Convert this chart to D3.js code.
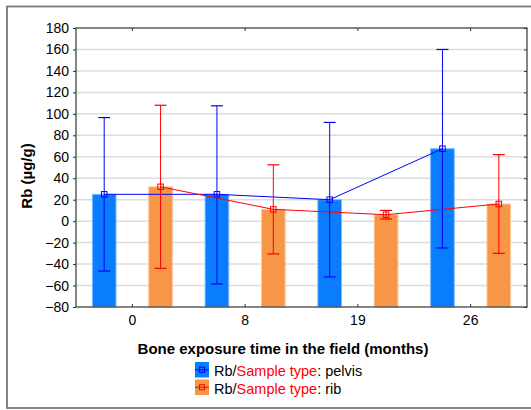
<!DOCTYPE html>
<html>
<head>
<meta charset="utf-8">
<script src="https://cdn.jsdelivr.net/npm/d3@7"></script>
<style>
  html, body { margin: 0; padding: 0; background: #fff; }
  svg { display: block; font-family: "Liberation Sans", Arial, sans-serif; }
</style>
</head>
<body>
<svg id="chart" width="531" height="410"></svg>
<script>
// Exposure time categories (months)
const categories = ["0", "8", "19", "26"];
const seriesNames = ["pelvis", "rib"];

// Rb concentration (µg/g): means and error-bar limits
const pelvisMean  = [25, 25, 20, 67.5];
const pelvisUpper = [96.5, 107.5, 92, 160];
const pelvisLower = [-46.5, -58.5, -52, -25];

const ribMean  = [32, 11, 6, 16];
const ribUpper = [108, 52.5, 10, 62];
const ribLower = [-44, -30.5, 2, -30];

const yTicks = [-80, -60, -40, -20, 0, 20, 40, 60, 80, 100, 120, 140, 160, 180];

const barColors  = { pelvis: "#0a7dff", rib: "#f79646" };
const lineColors = { pelvis: "#0000ff", rib: "#ff0000" };

const series = [
  { name: "pelvis", mean: pelvisMean, upper: pelvisUpper, lower: pelvisLower },
  { name: "rib",    mean: ribMean,    upper: ribUpper,    lower: ribLower }
];

const svg = d3.select("#chart");
const plot = { left: 76, right: 527, top: 28, bottom: 307 };

const x = d3.scaleBand().domain(categories).range([plot.left, plot.right]).padding(0);
const xSub = d3.scalePoint().domain(seriesNames).range([0, x.bandwidth()]).padding(0.5);
const y = d3.scaleLinear().domain([-80, 180]).range([plot.bottom, plot.top]);
const barW = x.bandwidth() * 0.21;

// Outer frame
svg.append("rect")
  .attr("x", 7).attr("y", 6.5).attr("width", 540).attr("height", 401.5)
  .attr("fill", "none").attr("stroke", "#777").attr("stroke-width", 1.8);

// Horizontal gridlines
svg.append("g")
  .selectAll("line")
  .data(yTicks.filter(v => v > -80 && v < 180))
  .join("line")
  .attr("x1", plot.left).attr("x2", plot.right)
  .attr("y1", d => y(d)).attr("y2", d => y(d))
  .attr("stroke", "#dcdcdc").attr("stroke-width", 1.5);

// Bars
series.forEach(s => {
  svg.append("g")
    .selectAll("rect")
    .data(categories.map((c, i) => ({ c, v: s.mean[i] })))
    .join("rect")
    .attr("x", d => x(d.c) + xSub(s.name) - barW / 2)
    .attr("width", barW)
    .attr("y", d => y(d.v))
    .attr("height", d => y(-80) - y(d.v))
    .attr("fill", barColors[s.name])
    .attr("stroke", s.name === "pelvis" ? "#7dbbff" : "#fbc9a0")
    .attr("stroke-width", 1);
});

// Error bars, connecting lines and markers
series.forEach(s => {
  const g = svg.append("g");
  const col = lineColors[s.name];
  const pts = categories.map((c, i) => ({
    cx: x(c) + xSub(s.name), m: s.mean[i], lo: s.lower[i], hi: s.upper[i]
  }));
  g.selectAll("line.v").data(pts).join("line")
    .attr("x1", d => d.cx).attr("x2", d => d.cx)
    .attr("y1", d => y(d.lo)).attr("y2", d => y(d.hi))
    .attr("stroke", col).attr("stroke-width", 1);
  ["lo", "hi"].forEach(k => {
    g.selectAll("line.cap" + k).data(pts).join("line")
      .attr("x1", d => d.cx - 6).attr("x2", d => d.cx + 6)
      .attr("y1", d => y(d[k])).attr("y2", d => y(d[k]))
      .attr("stroke", col).attr("stroke-width", 1.2);
  });
  const line = d3.line().x(d => d.cx).y(d => y(d.m));
  g.append("path").datum(pts).attr("d", line)
    .attr("fill", "none").attr("stroke", col).attr("stroke-width", 1);
  g.selectAll("rect").data(pts).join("rect")
    .attr("x", d => d.cx - 2.75).attr("y", d => y(d.m) - 2.75)
    .attr("width", 5.5).attr("height", 5.5)
    .attr("fill", "none").attr("stroke", col).attr("stroke-width", 1);
});

// Plot border
svg.append("rect")
  .attr("x", plot.left).attr("y", plot.top)
  .attr("width", plot.right - plot.left).attr("height", plot.bottom - plot.top)
  .attr("fill", "none").attr("stroke", "#444").attr("stroke-width", 1.3);

// Y axis (left) with labels
const yAxis = d3.axisLeft(y).tickValues(yTicks).tickSize(3).tickPadding(4);
const gy = svg.append("g").attr("transform", `translate(${plot.left},0)`).call(yAxis);
gy.select(".domain").remove();
gy.selectAll("text").attr("font-size", 14).attr("fill", "#000")
  .attr("font-family", "Liberation Sans, Arial, sans-serif");
gy.selectAll("line").attr("stroke", "#333");

// Right axis ticks (inward)
const gr = svg.append("g").attr("transform", `translate(${plot.right},0)`)
  .call(d3.axisRight(y).tickValues(yTicks).tickSize(-3).tickFormat(""));
gr.select(".domain").remove();
gr.selectAll("line").attr("stroke", "#333");

// X axis (bottom) with labels, ticks inward
const gx = svg.append("g").attr("transform", `translate(0,${plot.bottom})`)
  .call(d3.axisBottom(x).tickSize(-3).tickPadding(8));
gx.select(".domain").remove();
gx.selectAll("line").attr("stroke", "#333");
gx.selectAll("text").attr("font-size", 14).attr("fill", "#000")
  .attr("font-family", "Liberation Sans, Arial, sans-serif");

// Top axis ticks (inward)
const gt = svg.append("g").attr("transform", `translate(0,${plot.top})`)
  .call(d3.axisTop(x).tickSize(-3).tickFormat(""));
gt.select(".domain").remove();
gt.selectAll("line").attr("stroke", "#333");

// Axis titles
svg.append("text")
  .attr("x", 283).attr("y", 354)
  .attr("text-anchor", "middle")
  .attr("font-size", 15).attr("font-weight", "bold")
  .text("Bone exposure time in the field (months)");

svg.append("text")
  .attr("transform", "translate(32,176) rotate(-90)")
  .attr("text-anchor", "middle")
  .attr("font-size", 15).attr("font-weight", "bold")
  .text("Rb (µg/g)");

// Legend
const legend = svg.append("g");
series.forEach((s, i) => {
  const top = 362 + i * 17.5;
  const row = legend.append("g");
  row.append("rect").attr("x", 195).attr("y", top).attr("width", 14).attr("height", 15.5)
    .attr("fill", barColors[s.name]);
  row.append("line").attr("x1", 195).attr("x2", 209)
    .attr("y1", top + 7.75).attr("y2", top + 7.75)
    .attr("stroke", lineColors[s.name]).attr("stroke-width", 1);
  row.append("rect").attr("x", 199.5).attr("y", top + 5.25).attr("width", 5).attr("height", 5)
    .attr("fill", "none").attr("stroke", lineColors[s.name]).attr("stroke-width", 1);
  const t = row.append("text").attr("x", 214).attr("y", top + 14).attr("font-size", 14.5);
  t.append("tspan").attr("fill", "#000").text("Rb/");
  t.append("tspan").attr("fill", "#ff0000").text("Sample type");
  t.append("tspan").attr("fill", "#000").text(": " + s.name);
});
</script>
</body>
</html>
